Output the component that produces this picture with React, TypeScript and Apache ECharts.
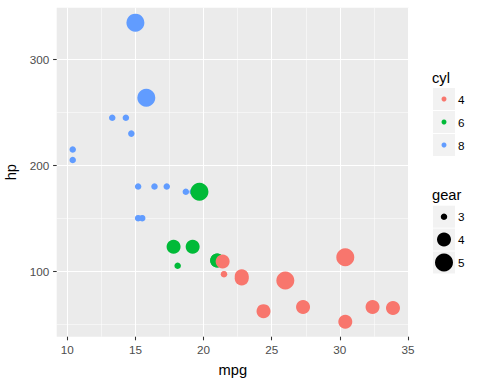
import React, { useEffect, useRef } from "react";
import * as echarts from "echarts";

// mtcars (row order)
const mpg = [21, 21, 22.8, 21.4, 18.7, 18.1, 14.3, 24.4, 22.8, 19.2, 17.8, 16.4, 17.3, 15.2, 10.4, 10.4, 14.7, 32.4, 30.4, 33.9, 21.5, 15.5, 15.2, 13.3, 19.2, 27.3, 26, 30.4, 15.8, 19.7, 15, 21.4];
const hp = [110, 110, 93, 110, 175, 105, 245, 62, 95, 123, 123, 180, 180, 180, 205, 215, 230, 66, 52, 65, 97, 150, 150, 245, 175, 66, 91, 113, 264, 175, 335, 109];
const cyl = [6, 6, 4, 6, 8, 6, 8, 4, 4, 6, 6, 8, 8, 8, 8, 8, 8, 4, 4, 4, 4, 8, 8, 8, 8, 4, 4, 4, 8, 6, 8, 4];
const gear = [4, 4, 4, 3, 3, 3, 3, 4, 4, 4, 4, 3, 3, 3, 3, 3, 3, 4, 4, 4, 3, 3, 3, 3, 3, 4, 5, 5, 5, 5, 5, 4];

const cylLevels = [4, 6, 8];
const gearLevels = [3, 4, 5];
const xTicks = [10, 15, 20, 25, 30, 35];
const yTicks = [100, 200, 300];

const cylColors: Record<number, string> = { 4: "#F8766D", 6: "#00BA38", 8: "#619CFF" };
const gearSizes: Record<number, number> = { 3: 6.5, 4: 14, 5: 18 };

const FONT = "'Liberation Sans', Arial, sans-serif";

export default function App() {
  const ref = useRef<HTMLDivElement>(null);
  useEffect(() => {
    if (!ref.current) return;
    const chart = echarts.init(ref.current, undefined, { renderer: "svg" });

    const xr = [Math.min(...mpg), Math.max(...mpg)];
    const yr = [Math.min(...hp), Math.max(...hp)];
    const xPad = (xr[1] - xr[0]) * 0.05;
    const yPad = (yr[1] - yr[0]) * 0.05;

    // draw order: 8 first, then 6, then 4 on top (matches reference overlaps)
    const drawOrder = [8, 6, 4];
    const cylSeries = drawOrder.map((c) => ({
      type: "scatter",
      name: String(c),
      data: mpg
        .map((m, i) => ({ i, m }))
        .filter(({ i }) => cyl[i] === c)
        .map(({ i, m }) => [m, hp[i], gear[i]]),
      symbol: "circle",
      symbolSize: (v: number[]) => gearSizes[v[2]],
      itemStyle: { color: cylColors[c], opacity: 1 },
      emphasis: { disabled: true },
    }));
    const gearSeries = gearLevels.map((g) => ({
      type: "scatter",
      name: "gear" + g,
      data: [],
      itemStyle: { color: "#000000", opacity: 1 },
    }));

    const keyX = 444;
    const textX = 458;
    const cylCenters = [99, 122, 145];
    const gearCenters = [216.7, 239.5, 262.5];

    const legendText = (w: number) => ({
      fontSize: 11.7,
      lineHeight: 23,
      color: "#000",
      fontFamily: FONT,
      padding: [0, 0, 0, Math.max(0, textX - (keyX + w / 2 + 5))],
    });

    const keyRects: any[] = [];
    [...cylCenters, ...gearCenters].forEach((cy) => {
      keyRects.push({
        type: "rect",
        z: 0,
        shape: { x: 433, y: cy - 11, width: 22, height: 22 },
        style: { fill: "#F2F2F2" },
        silent: true,
      });
    });

    const option: any = {
      animation: false,
      textStyle: { fontFamily: FONT },
      grid: {
        left: 56.7,
        right: 71,
        top: 7.7,
        bottom: 47.3,
        show: true,
        backgroundColor: "#EBEBEB",
        borderWidth: 0,
        containLabel: false,
        outerBoundsMode: "none",
      },
      xAxis: {
        type: "value",
        min: xr[0] - xPad,
        max: xr[1] + xPad,
        splitNumber: 5,
        name: "mpg",
        nameLocation: "middle",
        nameGap: 26,
        nameTextStyle: { fontSize: 14.7, color: "#000", fontFamily: FONT },
        axisLine: { show: false },
        axisTick: { show: true, length: 3.6, customValues: xTicks, lineStyle: { color: "#333333", width: 1.07 } },
        axisLabel: { customValues: xTicks, color: "#4D4D4D", fontSize: 11.7, margin: 7, fontFamily: FONT },
        splitLine: { show: true, lineStyle: { color: "#FFFFFF", width: 1.07 } },
        minorTick: { show: false, splitNumber: 2 },
        minorSplitLine: { show: true, lineStyle: { color: "#FFFFFF", width: 0.53 } },
      },
      yAxis: {
        type: "value",
        min: yr[0] - yPad,
        max: yr[1] + yPad,
        splitNumber: 3,
        name: "hp",
        nameLocation: "middle",
        nameGap: 36,
        nameTextStyle: { fontSize: 14.7, color: "#000", fontFamily: FONT },
        axisLine: { show: false },
        axisTick: { show: true, length: 3.6, customValues: yTicks, lineStyle: { color: "#333333", width: 1.07 } },
        axisLabel: { customValues: yTicks, color: "#4D4D4D", fontSize: 11.7, margin: 7.5, fontFamily: FONT },
        splitLine: { show: true, lineStyle: { color: "#FFFFFF", width: 1.07 } },
        minorTick: { show: false, splitNumber: 2 },
        minorSplitLine: { show: true, lineStyle: { color: "#FFFFFF", width: 0.53 } },
      },
      legend: [
        {
          data: cylLevels.map((c) => ({ name: String(c), icon: "circle" })),
          orient: "vertical",
          left: keyX - 2.5,
          top: cylCenters[0] - 11.5,
          itemWidth: 5,
          itemHeight: 5,
          itemGap: 0,
          padding: 0,
          selectedMode: false,
          textStyle: legendText(5),
        },
        ...gearLevels.map((g, k) => {
          const w = gearSizes[g];
          return {
            data: [{ name: "gear" + g, icon: "circle", itemStyle: { color: "#000000", opacity: 1 } }],
            formatter: (n: string) => n.replace("gear", ""),
            orient: "vertical",
            left: keyX - w / 2,
            top: gearCenters[k] - 11.5,
            itemWidth: w,
            itemHeight: w,
            itemGap: 0,
            padding: 0,
            selectedMode: false,
            textStyle: legendText(w),
          };
        }),
      ],
      graphic: [
        ...keyRects,
        {
          type: "text",
          z: 1,
          x: 432,
          y: 77.7,
          style: { text: "cyl", fontSize: 14.7, fill: "#000", fontFamily: FONT, verticalAlign: "middle", align: "left" },
        },
        {
          type: "text",
          z: 1,
          x: 432,
          y: 195,
          style: { text: "gear", fontSize: 14.7, fill: "#000", fontFamily: FONT, verticalAlign: "middle", align: "left" },
        },
      ],
      series: [...cylSeries, ...gearSeries],
    };
    chart.setOption(option);
    return () => chart.dispose();
  }, []);
  return <div ref={ref} style={{ position: "absolute", left: 0, top: 0, width: 480, height: 384 }} />;
}
